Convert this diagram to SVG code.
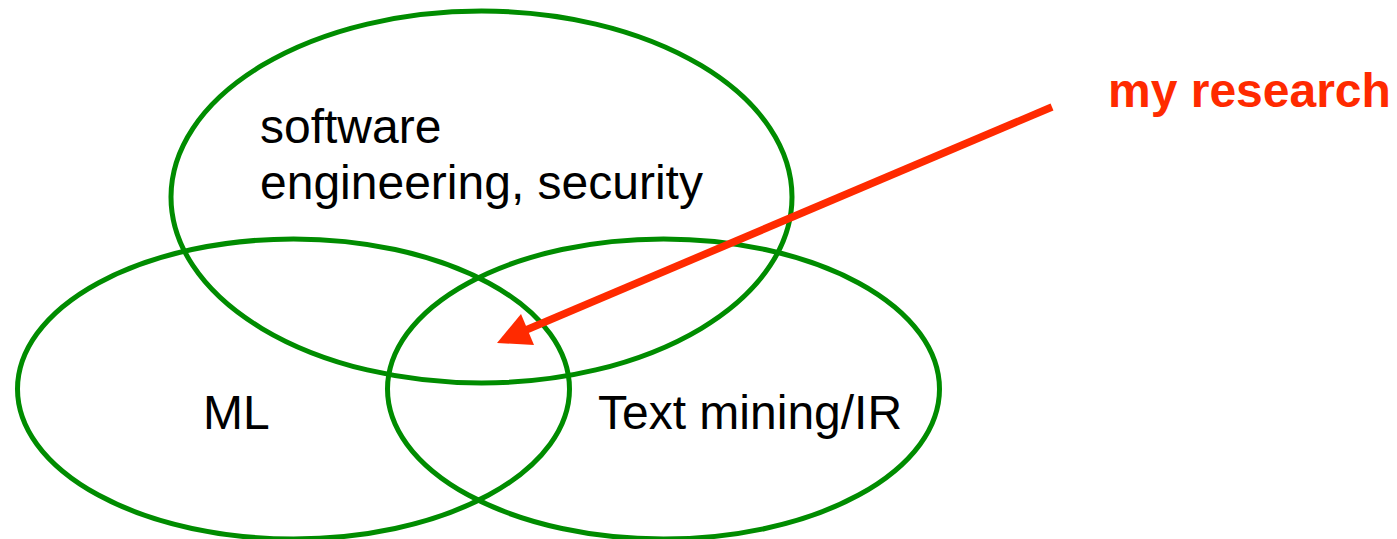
<svg xmlns="http://www.w3.org/2000/svg" width="1397" height="539" viewBox="0 0 1397 539">
<style>
.set{fill:none;stroke:#008c00;stroke-width:5}
.lbl{font-family:"Liberation Sans",Arial,sans-serif;font-size:48px;fill:#000}
.note{font-family:"Liberation Sans",Arial,sans-serif;font-size:48px;font-weight:bold;fill:#ff2a00}
</style>
<rect width="1397" height="539" fill="#fff"/>
<g id="node-se">
<ellipse class="set" cx="481.5" cy="197" rx="310.5" ry="186"/>
<text class="lbl" x="260" y="143">software</text>
<text class="lbl" x="260" y="199">engineering, security</text>
</g>
<g id="node-ml">
<ellipse class="set" cx="293.5" cy="389" rx="276" ry="150"/>
<text class="lbl" x="203" y="429">ML</text>
</g>
<g id="node-tm">
<ellipse class="set" cx="663.5" cy="389" rx="276" ry="150"/>
<text class="lbl" x="598" y="429">Text mining/IR</text>
</g>
<g id="node-note">
<text class="note" x="1108" y="107">my research</text>
</g>
<g id="connectors">
<line x1="1052" y1="107" x2="526" y2="330" stroke="#ff2a00" stroke-width="7.5"/>
<polygon points="497,343 521,314 534,345" fill="#ff2a00"/>
</g>
</svg>
